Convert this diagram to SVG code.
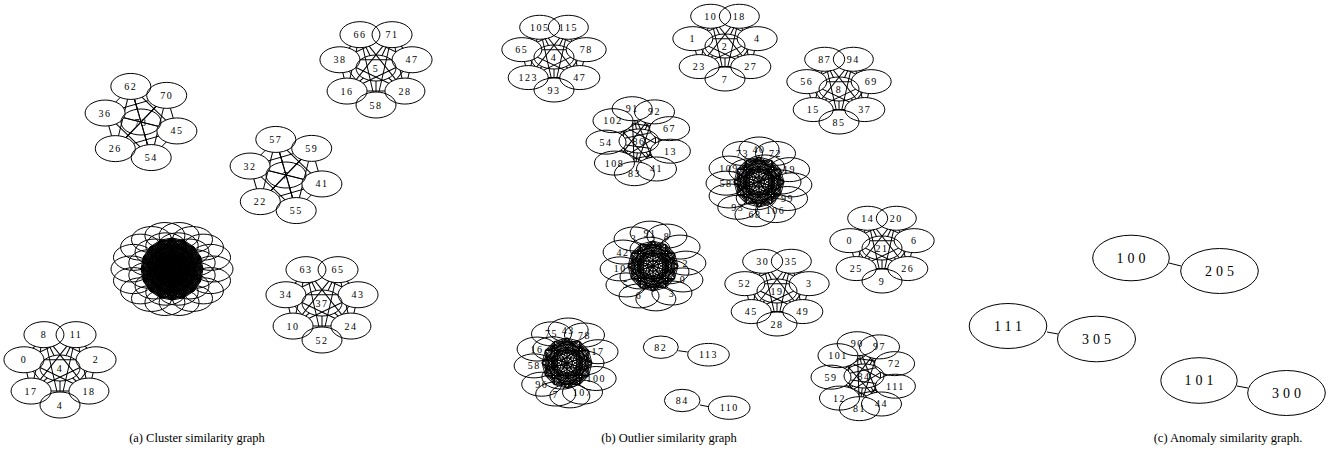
<svg xmlns="http://www.w3.org/2000/svg" width="1340" height="458" viewBox="0 0 1340 458">
<style>
.n ellipse{fill:none;stroke:#000;stroke-width:1}
.n text{font-family:"Liberation Serif","Times New Roman",serif;font-size:10px;letter-spacing:1.5px;text-anchor:middle;dominant-baseline:central;fill:#000}
.big ellipse{fill:none;stroke:#000;stroke-width:1}
.big text{font-family:"Liberation Serif","Times New Roman",serif;font-size:14px;letter-spacing:4px;text-anchor:middle;dominant-baseline:central;fill:#000}
.cap{font-family:"Liberation Serif","Times New Roman",serif;font-size:12.5px;text-anchor:middle;fill:#000}
</style>
<defs>
<g id="c6a"><line x1="35.9" y1="8.95" x2="10.2" y2="35.57"/><line x1="35.9" y1="8.95" x2="-25.7" y2="26.62"/><line x1="35.9" y1="8.95" x2="-35.9" y2="-8.95"/></g>
<g id="s6a"><line x1="35.9" y1="8.95" x2="0" y2="0"/></g>
<g id="C6a"><use href="#c6a"/><use href="#c6a" transform="rotate(60)"/><use href="#c6a" transform="rotate(120)"/><use href="#c6a" transform="rotate(180)"/><use href="#c6a" transform="rotate(240)"/><use href="#c6a" transform="rotate(300)"/></g>
<g id="S6a"><use href="#s6a"/><use href="#s6a" transform="rotate(60)"/><use href="#s6a" transform="rotate(120)"/><use href="#s6a" transform="rotate(180)"/><use href="#s6a" transform="rotate(240)"/><use href="#s6a" transform="rotate(300)"/></g>

<g id="c7a"><line x1="0" y1="37" x2="-28.93" y2="23.07"/><line x1="0" y1="37" x2="-36.07" y2="-8.23"/><line x1="0" y1="37" x2="-16.05" y2="-33.34"/></g>
<g id="s7a"><line x1="0" y1="37" x2="0" y2="0"/></g>
<g id="C7a"><use href="#c7a"/><use href="#c7a" transform="rotate(51.43)"/><use href="#c7a" transform="rotate(102.86)"/><use href="#c7a" transform="rotate(154.29)"/><use href="#c7a" transform="rotate(205.71)"/><use href="#c7a" transform="rotate(257.14)"/><use href="#c7a" transform="rotate(308.57)"/></g>
<g id="S7a"><use href="#s7a"/><use href="#s7a" transform="rotate(51.43)"/><use href="#s7a" transform="rotate(102.86)"/><use href="#s7a" transform="rotate(154.29)"/><use href="#s7a" transform="rotate(205.71)"/><use href="#s7a" transform="rotate(257.14)"/><use href="#s7a" transform="rotate(308.57)"/></g>

<g id="c7b"><line x1="0" y1="33" x2="-25.8" y2="20.58"/><line x1="0" y1="33" x2="-32.17" y2="-7.34"/><line x1="0" y1="33" x2="-14.32" y2="-29.73"/></g>
<g id="s7b"><line x1="0" y1="33" x2="0" y2="0"/></g>
<g id="C7b"><use href="#c7b"/><use href="#c7b" transform="rotate(51.43)"/><use href="#c7b" transform="rotate(102.86)"/><use href="#c7b" transform="rotate(154.29)"/><use href="#c7b" transform="rotate(205.71)"/><use href="#c7b" transform="rotate(257.14)"/><use href="#c7b" transform="rotate(308.57)"/></g>
<g id="S7b"><use href="#s7b"/><use href="#s7b" transform="rotate(51.43)"/><use href="#s7b" transform="rotate(102.86)"/><use href="#s7b" transform="rotate(154.29)"/><use href="#s7b" transform="rotate(205.71)"/><use href="#s7b" transform="rotate(257.14)"/><use href="#s7b" transform="rotate(308.57)"/></g>

<g id="c9b"><line x1="31.39" y1="10.2" x2="17.49" y2="27.98"/><line x1="31.39" y1="10.2" x2="-4.59" y2="32.68"/><line x1="31.39" y1="10.2" x2="-24.52" y2="22.08"/><line x1="31.39" y1="10.2" x2="-32.98" y2="1.15"/></g>
<g id="s9b"><line x1="31.39" y1="10.2" x2="0" y2="0"/></g>
<g id="C9b"><use href="#c9b"/><use href="#c9b" transform="rotate(40)"/><use href="#c9b" transform="rotate(80)"/><use href="#c9b" transform="rotate(120)"/><use href="#c9b" transform="rotate(160)"/><use href="#c9b" transform="rotate(200)"/><use href="#c9b" transform="rotate(240)"/><use href="#c9b" transform="rotate(280)"/><use href="#c9b" transform="rotate(320)"/></g>
<g id="S9b"><use href="#s9b"/><use href="#s9b" transform="rotate(40)"/><use href="#s9b" transform="rotate(80)"/><use href="#s9b" transform="rotate(120)"/><use href="#s9b" transform="rotate(160)"/><use href="#s9b" transform="rotate(200)"/><use href="#s9b" transform="rotate(240)"/><use href="#s9b" transform="rotate(280)"/><use href="#s9b" transform="rotate(320)"/></g>

<g id="f16"><line x1="31" y1="0" x2="28.64" y2="11.86"/><line x1="31" y1="0" x2="21.92" y2="21.92"/><line x1="31" y1="0" x2="11.86" y2="28.64"/><line x1="31" y1="0" x2="0" y2="31"/><line x1="31" y1="0" x2="-11.86" y2="28.64"/><line x1="31" y1="0" x2="-21.92" y2="21.92"/><line x1="31" y1="0" x2="-28.64" y2="11.86"/><line x1="31" y1="0" x2="-31" y2="0"/></g>
<g id="K16"><use href="#f16"/><use href="#f16" transform="rotate(22.5)"/><use href="#f16" transform="rotate(45)"/><use href="#f16" transform="rotate(67.5)"/><use href="#f16" transform="rotate(90)"/><use href="#f16" transform="rotate(112.5)"/><use href="#f16" transform="rotate(135)"/><use href="#f16" transform="rotate(157.5)"/><use href="#f16" transform="rotate(180)"/><use href="#f16" transform="rotate(202.5)"/><use href="#f16" transform="rotate(225)"/><use href="#f16" transform="rotate(247.5)"/><use href="#f16" transform="rotate(270)"/><use href="#f16" transform="rotate(292.5)"/><use href="#f16" transform="rotate(315)"/><use href="#f16" transform="rotate(337.5)"/></g>

<g id="f12"><line x1="24" y1="0" x2="20.78" y2="12"/><line x1="24" y1="0" x2="12" y2="20.78"/><line x1="24" y1="0" x2="0" y2="24"/><line x1="24" y1="0" x2="-12" y2="20.78"/><line x1="24" y1="0" x2="-20.78" y2="12"/><line x1="24" y1="0" x2="-24" y2="0"/></g>
<g id="K12"><use href="#f12"/><use href="#f12" transform="rotate(30)"/><use href="#f12" transform="rotate(60)"/><use href="#f12" transform="rotate(90)"/><use href="#f12" transform="rotate(120)"/><use href="#f12" transform="rotate(150)"/><use href="#f12" transform="rotate(180)"/><use href="#f12" transform="rotate(210)"/><use href="#f12" transform="rotate(240)"/><use href="#f12" transform="rotate(270)"/><use href="#f12" transform="rotate(300)"/><use href="#f12" transform="rotate(330)"/></g>

<g id="f10"><line x1="16" y1="0" x2="12.94" y2="9.4"/><line x1="16" y1="0" x2="4.94" y2="15.22"/><line x1="16" y1="0" x2="-4.94" y2="15.22"/><line x1="16" y1="0" x2="-12.94" y2="9.4"/><line x1="16" y1="0" x2="-16" y2="0"/></g>
<g id="K10"><use href="#f10"/><use href="#f10" transform="rotate(36)"/><use href="#f10" transform="rotate(72)"/><use href="#f10" transform="rotate(108)"/><use href="#f10" transform="rotate(144)"/><use href="#f10" transform="rotate(180)"/><use href="#f10" transform="rotate(216)"/><use href="#f10" transform="rotate(252)"/><use href="#f10" transform="rotate(288)"/><use href="#f10" transform="rotate(324)"/></g>

<g id="g12"><line x1="25" y1="0" x2="21.65" y2="12.5"/><line x1="25" y1="0" x2="12.5" y2="21.65"/><line x1="25" y1="0" x2="0" y2="25"/><line x1="25" y1="0" x2="-12.5" y2="21.65"/></g>
<g id="W12"><use href="#g12"/><use href="#g12" transform="rotate(30)"/><use href="#g12" transform="rotate(60)"/><use href="#g12" transform="rotate(90)"/><use href="#g12" transform="rotate(120)"/><use href="#g12" transform="rotate(150)"/><use href="#g12" transform="rotate(180)"/><use href="#g12" transform="rotate(210)"/><use href="#g12" transform="rotate(240)"/><use href="#g12" transform="rotate(270)"/><use href="#g12" transform="rotate(300)"/><use href="#g12" transform="rotate(330)"/></g>

<g id="k6a" fill="#000">
<ellipse rx="20" ry="13" transform="rotate(14) translate(37 0) rotate(-14)"/>
<ellipse rx="20" ry="13" transform="rotate(74) translate(37 0) rotate(-74)"/>
<ellipse rx="20" ry="13" transform="rotate(134) translate(37 0) rotate(-134)"/>
<ellipse rx="20" ry="13" transform="rotate(194) translate(37 0) rotate(-194)"/>
<ellipse rx="20" ry="13" transform="rotate(254) translate(37 0) rotate(-254)"/>
<ellipse rx="20" ry="13" transform="rotate(314) translate(37 0) rotate(-314)"/>
</g>
<g id="k7a" fill="#000">
<ellipse rx="20" ry="13" transform="rotate(90) translate(37 0) rotate(-90)"/>
<ellipse rx="20" ry="13" transform="rotate(141.43) translate(37 0) rotate(-141.43)"/>
<ellipse rx="20" ry="13" transform="rotate(192.86) translate(37 0) rotate(-192.86)"/>
<ellipse rx="20" ry="13" transform="rotate(244.29) translate(37 0) rotate(-244.29)"/>
<ellipse rx="20" ry="13" transform="rotate(295.71) translate(37 0) rotate(-295.71)"/>
<ellipse rx="20" ry="13" transform="rotate(347.14) translate(37 0) rotate(-347.14)"/>
<ellipse rx="20" ry="13" transform="rotate(38.57) translate(37 0) rotate(-38.57)"/>
</g>
<g id="k7b" fill="#000">
<ellipse rx="20" ry="12" transform="rotate(90) translate(33 0) rotate(-90)"/>
<ellipse rx="20" ry="12" transform="rotate(141.43) translate(33 0) rotate(-141.43)"/>
<ellipse rx="20" ry="12" transform="rotate(192.86) translate(33 0) rotate(-192.86)"/>
<ellipse rx="20" ry="12" transform="rotate(244.29) translate(33 0) rotate(-244.29)"/>
<ellipse rx="20" ry="12" transform="rotate(295.71) translate(33 0) rotate(-295.71)"/>
<ellipse rx="20" ry="12" transform="rotate(347.14) translate(33 0) rotate(-347.14)"/>
<ellipse rx="20" ry="12" transform="rotate(38.57) translate(33 0) rotate(-38.57)"/>
</g>
<g id="k9b" fill="#000">
<ellipse rx="20" ry="12" transform="rotate(18) translate(33 0) rotate(-18)"/>
<ellipse rx="20" ry="12" transform="rotate(58) translate(33 0) rotate(-58)"/>
<ellipse rx="20" ry="12" transform="rotate(98) translate(33 0) rotate(-98)"/>
<ellipse rx="20" ry="12" transform="rotate(138) translate(33 0) rotate(-138)"/>
<ellipse rx="20" ry="12" transform="rotate(178) translate(33 0) rotate(-178)"/>
<ellipse rx="20" ry="12" transform="rotate(218) translate(33 0) rotate(-218)"/>
<ellipse rx="20" ry="12" transform="rotate(258) translate(33 0) rotate(-258)"/>
<ellipse rx="20" ry="12" transform="rotate(298) translate(33 0) rotate(-298)"/>
<ellipse rx="20" ry="12" transform="rotate(338) translate(33 0) rotate(-338)"/>
</g>
<mask id="m6a" maskUnits="userSpaceOnUse" x="-90" y="-90" width="180" height="180"><rect x="-90" y="-90" width="180" height="180" fill="#fff"/><use href="#k6a"/></mask>
<mask id="m6aA" maskUnits="userSpaceOnUse" x="-90" y="-90" width="180" height="180"><rect x="-90" y="-90" width="180" height="180" fill="#fff"/><use href="#k6a"/><ellipse rx="20" ry="13" fill="#000"/></mask>
<mask id="m7a" maskUnits="userSpaceOnUse" x="-90" y="-90" width="180" height="180"><rect x="-90" y="-90" width="180" height="180" fill="#fff"/><use href="#k7a"/></mask>
<mask id="m7aA" maskUnits="userSpaceOnUse" x="-90" y="-90" width="180" height="180"><rect x="-90" y="-90" width="180" height="180" fill="#fff"/><use href="#k7a"/><ellipse rx="20" ry="13" fill="#000"/></mask>
<mask id="m7b" maskUnits="userSpaceOnUse" x="-90" y="-90" width="180" height="180"><rect x="-90" y="-90" width="180" height="180" fill="#fff"/><use href="#k7b"/></mask>
<mask id="m7bA" maskUnits="userSpaceOnUse" x="-90" y="-90" width="180" height="180"><rect x="-90" y="-90" width="180" height="180" fill="#fff"/><use href="#k7b"/><ellipse rx="20" ry="12" fill="#000"/></mask>
<mask id="m9b" maskUnits="userSpaceOnUse" x="-90" y="-90" width="180" height="180"><rect x="-90" y="-90" width="180" height="180" fill="#fff"/><use href="#k9b"/></mask>
<mask id="m9bA" maskUnits="userSpaceOnUse" x="-90" y="-90" width="180" height="180"><rect x="-90" y="-90" width="180" height="180" fill="#fff"/><use href="#k9b"/><ellipse rx="20" ry="12" fill="#000"/></mask>
</defs>

<rect x="0" y="0" width="1340" height="458" fill="#fff"/>

<g id="connectors" stroke="#000" stroke-width="1" fill="none">
<g transform="translate(141 122)"><g mask="url(#m6a)"><use href="#C6a"/></g><g mask="url(#m6aA)"><use href="#S6a"/></g></g>
<g transform="translate(286 175)"><g mask="url(#m6a)"><use href="#C6a"/></g><g mask="url(#m6aA)"><use href="#S6a"/></g></g>
<g transform="translate(376 68)"><g mask="url(#m7a)"><use href="#C7a"/></g><g mask="url(#m7aA)"><use href="#S7a"/></g></g>
<g transform="translate(322 303)"><g mask="url(#m7a)"><use href="#C7a"/></g><g mask="url(#m7aA)"><use href="#S7a"/></g></g>
<g transform="translate(60 368)"><g mask="url(#m7a)"><use href="#C7a"/></g><g mask="url(#m7aA)"><use href="#S7a"/></g></g>
<g transform="translate(172 269)"><use href="#K16"/><use href="#K16" transform="rotate(11.25) scale(0.8)"/><use href="#K12" transform="scale(0.8)"/><use href="#K10" transform="rotate(18)"/><use href="#K12" transform="rotate(15) scale(0.45)"/></g>

<g transform="translate(554 57)"><g mask="url(#m7b)"><use href="#C7b"/></g><g mask="url(#m7bA)"><use href="#S7b"/></g></g>
<g transform="translate(725 46)"><g mask="url(#m7b)"><use href="#C7b"/></g><g mask="url(#m7bA)"><use href="#S7b"/></g></g>
<g transform="translate(839 89)"><g mask="url(#m7b)"><use href="#C7b"/></g><g mask="url(#m7bA)"><use href="#S7b"/></g></g>
<g transform="translate(777 291)"><g mask="url(#m7b)"><use href="#C7b"/></g><g mask="url(#m7bA)"><use href="#S7b"/></g></g>
<g transform="translate(882 248)"><g mask="url(#m7b)"><use href="#C7b"/></g><g mask="url(#m7bA)"><use href="#S7b"/></g></g>
<g transform="translate(639 141)"><g mask="url(#m9b)"><use href="#C9b"/></g><g mask="url(#m9bA)"><use href="#S9b"/></g></g>
<g transform="translate(864 376)"><g mask="url(#m9b)"><use href="#C9b"/></g><g mask="url(#m9bA)"><use href="#S9b"/></g></g>
<g stroke-width="0.9">
<g transform="translate(759 182)"><use href="#W12"/><use href="#W12" transform="rotate(15) scale(0.85)"/><use href="#K10" transform="rotate(18)"/></g>
<g transform="translate(653 266)"><use href="#W12"/><use href="#W12" transform="rotate(15) scale(0.85)"/><use href="#K10" transform="rotate(18)"/></g>
<g transform="translate(567 363)"><use href="#W12"/><use href="#W12" transform="rotate(15) scale(0.85)"/><use href="#K10" transform="rotate(18)"/></g>
</g>
<line x1="678.3" y1="350.7" x2="687.7" y2="352"/>
<line x1="700" y1="405" x2="708.7" y2="406.7"/>
<line x1="1169" y1="263" x2="1181" y2="266"/>
<line x1="1047" y1="332" x2="1058" y2="334"/>
<line x1="1237" y1="386" x2="1248" y2="388"/>
</g>

<g id="a73">
<g id="a73-45" class="n" transform="translate(141 122) rotate(14) translate(37 0) rotate(-14)"><ellipse rx="20" ry="13"/><text>45</text></g>
<g id="a73-54" class="n" transform="translate(141 122) rotate(74) translate(37 0) rotate(-74)"><ellipse rx="20" ry="13"/><text>54</text></g>
<g id="a73-26" class="n" transform="translate(141 122) rotate(134) translate(37 0) rotate(-134)"><ellipse rx="20" ry="13"/><text>26</text></g>
<g id="a73-36" class="n" transform="translate(141 122) rotate(194) translate(37 0) rotate(-194)"><ellipse rx="20" ry="13"/><text>36</text></g>
<g id="a73-62" class="n" transform="translate(141 122) rotate(254) translate(37 0) rotate(-254)"><ellipse rx="20" ry="13"/><text>62</text></g>
<g id="a73-70" class="n" transform="translate(141 122) rotate(314) translate(37 0) rotate(-314)"><ellipse rx="20" ry="13"/><text>70</text></g>
<g id="a73-73" class="n" transform="translate(141 122)"><ellipse rx="20" ry="13"/><text>73</text></g>
</g>
<g id="a7">
<g id="a7-41" class="n" transform="translate(286 175) rotate(14) translate(37 0) rotate(-14)"><ellipse rx="20" ry="13"/><text>41</text></g>
<g id="a7-55" class="n" transform="translate(286 175) rotate(74) translate(37 0) rotate(-74)"><ellipse rx="20" ry="13"/><text>55</text></g>
<g id="a7-22" class="n" transform="translate(286 175) rotate(134) translate(37 0) rotate(-134)"><ellipse rx="20" ry="13"/><text>22</text></g>
<g id="a7-32" class="n" transform="translate(286 175) rotate(194) translate(37 0) rotate(-194)"><ellipse rx="20" ry="13"/><text>32</text></g>
<g id="a7-57" class="n" transform="translate(286 175) rotate(254) translate(37 0) rotate(-254)"><ellipse rx="20" ry="13"/><text>57</text></g>
<g id="a7-59" class="n" transform="translate(286 175) rotate(314) translate(37 0) rotate(-314)"><ellipse rx="20" ry="13"/><text>59</text></g>
<g id="a7-7" class="n" transform="translate(286 175)"><ellipse rx="20" ry="13"/><text>7</text></g>
</g>
<g id="a5">
<g id="a5-58" class="n" transform="translate(376 68) rotate(90) translate(37 0) rotate(-90)"><ellipse rx="20" ry="13"/><text>58</text></g>
<g id="a5-16" class="n" transform="translate(376 68) rotate(141.43) translate(37 0) rotate(-141.43)"><ellipse rx="20" ry="13"/><text>16</text></g>
<g id="a5-38" class="n" transform="translate(376 68) rotate(192.86) translate(37 0) rotate(-192.86)"><ellipse rx="20" ry="13"/><text>38</text></g>
<g id="a5-66" class="n" transform="translate(376 68) rotate(244.29) translate(37 0) rotate(-244.29)"><ellipse rx="20" ry="13"/><text>66</text></g>
<g id="a5-71" class="n" transform="translate(376 68) rotate(295.71) translate(37 0) rotate(-295.71)"><ellipse rx="20" ry="13"/><text>71</text></g>
<g id="a5-47" class="n" transform="translate(376 68) rotate(347.14) translate(37 0) rotate(-347.14)"><ellipse rx="20" ry="13"/><text>47</text></g>
<g id="a5-28" class="n" transform="translate(376 68) rotate(38.57) translate(37 0) rotate(-38.57)"><ellipse rx="20" ry="13"/><text>28</text></g>
<g id="a5-5" class="n" transform="translate(376 68)"><ellipse rx="20" ry="13"/><text>5</text></g>
</g>
<g id="a37">
<g id="a37-52" class="n" transform="translate(322 303) rotate(90) translate(37 0) rotate(-90)"><ellipse rx="20" ry="13"/><text>52</text></g>
<g id="a37-10" class="n" transform="translate(322 303) rotate(141.43) translate(37 0) rotate(-141.43)"><ellipse rx="20" ry="13"/><text>10</text></g>
<g id="a37-34" class="n" transform="translate(322 303) rotate(192.86) translate(37 0) rotate(-192.86)"><ellipse rx="20" ry="13"/><text>34</text></g>
<g id="a37-63" class="n" transform="translate(322 303) rotate(244.29) translate(37 0) rotate(-244.29)"><ellipse rx="20" ry="13"/><text>63</text></g>
<g id="a37-65" class="n" transform="translate(322 303) rotate(295.71) translate(37 0) rotate(-295.71)"><ellipse rx="20" ry="13"/><text>65</text></g>
<g id="a37-43" class="n" transform="translate(322 303) rotate(347.14) translate(37 0) rotate(-347.14)"><ellipse rx="20" ry="13"/><text>43</text></g>
<g id="a37-24" class="n" transform="translate(322 303) rotate(38.57) translate(37 0) rotate(-38.57)"><ellipse rx="20" ry="13"/><text>24</text></g>
<g id="a37-37" class="n" transform="translate(322 303)"><ellipse rx="20" ry="13"/><text>37</text></g>
</g>
<g id="a4">
<g id="a4-4b" class="n" transform="translate(60 368) rotate(90) translate(37 0) rotate(-90)"><ellipse rx="20" ry="13"/><text>4</text></g>
<g id="a4-17" class="n" transform="translate(60 368) rotate(141.43) translate(37 0) rotate(-141.43)"><ellipse rx="20" ry="13"/><text>17</text></g>
<g id="a4-0" class="n" transform="translate(60 368) rotate(192.86) translate(37 0) rotate(-192.86)"><ellipse rx="20" ry="13"/><text>0</text></g>
<g id="a4-8" class="n" transform="translate(60 368) rotate(244.29) translate(37 0) rotate(-244.29)"><ellipse rx="20" ry="13"/><text>8</text></g>
<g id="a4-11" class="n" transform="translate(60 368) rotate(295.71) translate(37 0) rotate(-295.71)"><ellipse rx="20" ry="13"/><text>11</text></g>
<g id="a4-2" class="n" transform="translate(60 368) rotate(347.14) translate(37 0) rotate(-347.14)"><ellipse rx="20" ry="13"/><text>2</text></g>
<g id="a4-18" class="n" transform="translate(60 368) rotate(38.57) translate(37 0) rotate(-38.57)"><ellipse rx="20" ry="13"/><text>18</text></g>
<g id="a4-4" class="n" transform="translate(60 368)"><ellipse rx="20" ry="13"/><text>4</text></g>
</g>
<g id="ablob" class="n" transform="translate(172 269)">
<g id="ab-o0" transform="translate(41 0)"><ellipse rx="20" ry="13"/></g>
<g id="ab-o1" transform="translate(38.53 11.63)"><ellipse rx="20" ry="13"/></g>
<g id="ab-o2" transform="translate(31.41 21.86)"><ellipse rx="20" ry="13"/></g>
<g id="ab-o3" transform="translate(20.5 29.44)"><ellipse rx="20" ry="13"/></g>
<g id="ab-o4" transform="translate(7.12 33.48)"><ellipse rx="20" ry="13"/></g>
<g id="ab-o5" transform="translate(-7.12 33.48)"><ellipse rx="20" ry="13"/></g>
<g id="ab-o6" transform="translate(-20.5 29.44)"><ellipse rx="20" ry="13"/></g>
<g id="ab-o7" transform="translate(-31.41 21.86)"><ellipse rx="20" ry="13"/></g>
<g id="ab-o8" transform="translate(-38.53 11.63)"><ellipse rx="20" ry="13"/></g>
<g id="ab-o9" transform="translate(-41 0)"><ellipse rx="20" ry="13"/></g>
<g id="ab-o10" transform="translate(-38.53 -11.63)"><ellipse rx="20" ry="13"/></g>
<g id="ab-o11" transform="translate(-31.41 -21.86)"><ellipse rx="20" ry="13"/></g>
<g id="ab-o12" transform="translate(-20.5 -29.44)"><ellipse rx="20" ry="13"/></g>
<g id="ab-o13" transform="translate(-7.12 -33.48)"><ellipse rx="20" ry="13"/></g>
<g id="ab-o14" transform="translate(7.12 -33.48)"><ellipse rx="20" ry="13"/></g>
<g id="ab-o15" transform="translate(20.5 -29.44)"><ellipse rx="20" ry="13"/></g>
<g id="ab-o16" transform="translate(31.41 -21.86)"><ellipse rx="20" ry="13"/></g>
<g id="ab-o17" transform="translate(38.53 -11.63)"><ellipse rx="20" ry="13"/></g>
<g id="ab-i0" transform="rotate(15) translate(24 0) rotate(-15)"><ellipse rx="20" ry="13"/></g>
<g id="ab-i1" transform="rotate(45) translate(24 0) rotate(-45)"><ellipse rx="20" ry="13"/></g>
<g id="ab-i2" transform="rotate(75) translate(24 0) rotate(-75)"><ellipse rx="20" ry="13"/></g>
<g id="ab-i3" transform="rotate(105) translate(24 0) rotate(-105)"><ellipse rx="20" ry="13"/></g>
<g id="ab-i4" transform="rotate(135) translate(24 0) rotate(-135)"><ellipse rx="20" ry="13"/></g>
<g id="ab-i5" transform="rotate(165) translate(24 0) rotate(-165)"><ellipse rx="20" ry="13"/></g>
<g id="ab-i6" transform="rotate(195) translate(24 0) rotate(-195)"><ellipse rx="20" ry="13"/></g>
<g id="ab-i7" transform="rotate(225) translate(24 0) rotate(-225)"><ellipse rx="20" ry="13"/></g>
<g id="ab-i8" transform="rotate(255) translate(24 0) rotate(-255)"><ellipse rx="20" ry="13"/></g>
<g id="ab-i9" transform="rotate(285) translate(24 0) rotate(-285)"><ellipse rx="20" ry="13"/></g>
<g id="ab-i10" transform="rotate(315) translate(24 0) rotate(-315)"><ellipse rx="20" ry="13"/></g>
<g id="ab-i11" transform="rotate(345) translate(24 0) rotate(-345)"><ellipse rx="20" ry="13"/></g>
</g>

<g id="b4">
<g id="b4-93" class="n" transform="translate(554 57) rotate(90) translate(33 0) rotate(-90)"><ellipse rx="20" ry="12"/><text>93</text></g>
<g id="b4-123" class="n" transform="translate(554 57) rotate(141.43) translate(33 0) rotate(-141.43)"><ellipse rx="20" ry="12"/><text>123</text></g>
<g id="b4-65" class="n" transform="translate(554 57) rotate(192.86) translate(33 0) rotate(-192.86)"><ellipse rx="20" ry="12"/><text>65</text></g>
<g id="b4-105" class="n" transform="translate(554 57) rotate(244.29) translate(33 0) rotate(-244.29)"><ellipse rx="20" ry="12"/><text>105</text></g>
<g id="b4-115" class="n" transform="translate(554 57) rotate(295.71) translate(33 0) rotate(-295.71)"><ellipse rx="20" ry="12"/><text>115</text></g>
<g id="b4-78" class="n" transform="translate(554 57) rotate(347.14) translate(33 0) rotate(-347.14)"><ellipse rx="20" ry="12"/><text>78</text></g>
<g id="b4-47" class="n" transform="translate(554 57) rotate(38.57) translate(33 0) rotate(-38.57)"><ellipse rx="20" ry="12"/><text>47</text></g>
<g id="b4-4" class="n" transform="translate(554 57)"><ellipse rx="20" ry="12"/><text>4</text></g>
</g>
<g id="b2">
<g id="b2-7" class="n" transform="translate(725 46) rotate(90) translate(33 0) rotate(-90)"><ellipse rx="20" ry="12"/><text>7</text></g>
<g id="b2-23" class="n" transform="translate(725 46) rotate(141.43) translate(33 0) rotate(-141.43)"><ellipse rx="20" ry="12"/><text>23</text></g>
<g id="b2-1" class="n" transform="translate(725 46) rotate(192.86) translate(33 0) rotate(-192.86)"><ellipse rx="20" ry="12"/><text>1</text></g>
<g id="b2-10" class="n" transform="translate(725 46) rotate(244.29) translate(33 0) rotate(-244.29)"><ellipse rx="20" ry="12"/><text>10</text></g>
<g id="b2-18" class="n" transform="translate(725 46) rotate(295.71) translate(33 0) rotate(-295.71)"><ellipse rx="20" ry="12"/><text>18</text></g>
<g id="b2-4" class="n" transform="translate(725 46) rotate(347.14) translate(33 0) rotate(-347.14)"><ellipse rx="20" ry="12"/><text>4</text></g>
<g id="b2-27" class="n" transform="translate(725 46) rotate(38.57) translate(33 0) rotate(-38.57)"><ellipse rx="20" ry="12"/><text>27</text></g>
<g id="b2-2" class="n" transform="translate(725 46)"><ellipse rx="20" ry="12"/><text>2</text></g>
</g>
<g id="b8">
<g id="b8-85" class="n" transform="translate(839 89) rotate(90) translate(33 0) rotate(-90)"><ellipse rx="20" ry="12"/><text>85</text></g>
<g id="b8-15" class="n" transform="translate(839 89) rotate(141.43) translate(33 0) rotate(-141.43)"><ellipse rx="20" ry="12"/><text>15</text></g>
<g id="b8-56" class="n" transform="translate(839 89) rotate(192.86) translate(33 0) rotate(-192.86)"><ellipse rx="20" ry="12"/><text>56</text></g>
<g id="b8-87" class="n" transform="translate(839 89) rotate(244.29) translate(33 0) rotate(-244.29)"><ellipse rx="20" ry="12"/><text>87</text></g>
<g id="b8-94" class="n" transform="translate(839 89) rotate(295.71) translate(33 0) rotate(-295.71)"><ellipse rx="20" ry="12"/><text>94</text></g>
<g id="b8-69" class="n" transform="translate(839 89) rotate(347.14) translate(33 0) rotate(-347.14)"><ellipse rx="20" ry="12"/><text>69</text></g>
<g id="b8-37" class="n" transform="translate(839 89) rotate(38.57) translate(33 0) rotate(-38.57)"><ellipse rx="20" ry="12"/><text>37</text></g>
<g id="b8-8" class="n" transform="translate(839 89)"><ellipse rx="20" ry="12"/><text>8</text></g>
</g>
<g id="b19">
<g id="b19-28" class="n" transform="translate(777 291) rotate(90) translate(33 0) rotate(-90)"><ellipse rx="20" ry="12"/><text>28</text></g>
<g id="b19-45" class="n" transform="translate(777 291) rotate(141.43) translate(33 0) rotate(-141.43)"><ellipse rx="20" ry="12"/><text>45</text></g>
<g id="b19-52" class="n" transform="translate(777 291) rotate(192.86) translate(33 0) rotate(-192.86)"><ellipse rx="20" ry="12"/><text>52</text></g>
<g id="b19-30" class="n" transform="translate(777 291) rotate(244.29) translate(33 0) rotate(-244.29)"><ellipse rx="20" ry="12"/><text>30</text></g>
<g id="b19-35" class="n" transform="translate(777 291) rotate(295.71) translate(33 0) rotate(-295.71)"><ellipse rx="20" ry="12"/><text>35</text></g>
<g id="b19-3" class="n" transform="translate(777 291) rotate(347.14) translate(33 0) rotate(-347.14)"><ellipse rx="20" ry="12"/><text>3</text></g>
<g id="b19-49" class="n" transform="translate(777 291) rotate(38.57) translate(33 0) rotate(-38.57)"><ellipse rx="20" ry="12"/><text>49</text></g>
<g id="b19-19" class="n" transform="translate(777 291)"><ellipse rx="20" ry="12"/><text>19</text></g>
</g>
<g id="b21">
<g id="b21-9" class="n" transform="translate(882 248) rotate(90) translate(33 0) rotate(-90)"><ellipse rx="20" ry="12"/><text>9</text></g>
<g id="b21-25" class="n" transform="translate(882 248) rotate(141.43) translate(33 0) rotate(-141.43)"><ellipse rx="20" ry="12"/><text>25</text></g>
<g id="b21-0" class="n" transform="translate(882 248) rotate(192.86) translate(33 0) rotate(-192.86)"><ellipse rx="20" ry="12"/><text>0</text></g>
<g id="b21-14" class="n" transform="translate(882 248) rotate(244.29) translate(33 0) rotate(-244.29)"><ellipse rx="20" ry="12"/><text>14</text></g>
<g id="b21-20" class="n" transform="translate(882 248) rotate(295.71) translate(33 0) rotate(-295.71)"><ellipse rx="20" ry="12"/><text>20</text></g>
<g id="b21-6" class="n" transform="translate(882 248) rotate(347.14) translate(33 0) rotate(-347.14)"><ellipse rx="20" ry="12"/><text>6</text></g>
<g id="b21-26" class="n" transform="translate(882 248) rotate(38.57) translate(33 0) rotate(-38.57)"><ellipse rx="20" ry="12"/><text>26</text></g>
<g id="b21-21" class="n" transform="translate(882 248)"><ellipse rx="20" ry="12"/><text>21</text></g>
</g>
<g id="b86">
<g id="b86-13" class="n" transform="translate(639 141) rotate(18) translate(33 0) rotate(-18)"><ellipse rx="20" ry="12"/><text>13</text></g>
<g id="b86-41" class="n" transform="translate(639 141) rotate(58) translate(33 0) rotate(-58)"><ellipse rx="20" ry="12"/><text>41</text></g>
<g id="b86-83" class="n" transform="translate(639 141) rotate(98) translate(33 0) rotate(-98)"><ellipse rx="20" ry="12"/><text>83</text></g>
<g id="b86-108" class="n" transform="translate(639 141) rotate(138) translate(33 0) rotate(-138)"><ellipse rx="20" ry="12"/><text>108</text></g>
<g id="b86-54" class="n" transform="translate(639 141) rotate(178) translate(33 0) rotate(-178)"><ellipse rx="20" ry="12"/><text>54</text></g>
<g id="b86-102" class="n" transform="translate(639 141) rotate(218) translate(33 0) rotate(-218)"><ellipse rx="20" ry="12"/><text>102</text></g>
<g id="b86-91" class="n" transform="translate(639 141) rotate(258) translate(33 0) rotate(-258)"><ellipse rx="20" ry="12"/><text>91</text></g>
<g id="b86-92" class="n" transform="translate(639 141) rotate(298) translate(33 0) rotate(-298)"><ellipse rx="20" ry="12"/><text>92</text></g>
<g id="b86-67" class="n" transform="translate(639 141) rotate(338) translate(33 0) rotate(-338)"><ellipse rx="20" ry="12"/><text>67</text></g>
<g id="b86-86" class="n" transform="translate(639 141)"><ellipse rx="20" ry="12"/><text>86</text></g>
</g>
<g id="b84">
<g id="b84-111" class="n" transform="translate(864 376) rotate(18) translate(33 0) rotate(-18)"><ellipse rx="20" ry="12"/><text>111</text></g>
<g id="b84-44" class="n" transform="translate(864 376) rotate(58) translate(33 0) rotate(-58)"><ellipse rx="20" ry="12"/><text>44</text></g>
<g id="b84-81" class="n" transform="translate(864 376) rotate(98) translate(33 0) rotate(-98)"><ellipse rx="20" ry="12"/><text>81</text></g>
<g id="b84-12" class="n" transform="translate(864 376) rotate(138) translate(33 0) rotate(-138)"><ellipse rx="20" ry="12"/><text>12</text></g>
<g id="b84-59" class="n" transform="translate(864 376) rotate(178) translate(33 0) rotate(-178)"><ellipse rx="20" ry="12"/><text>59</text></g>
<g id="b84-101" class="n" transform="translate(864 376) rotate(218) translate(33 0) rotate(-218)"><ellipse rx="20" ry="12"/><text>101</text></g>
<g id="b84-90" class="n" transform="translate(864 376) rotate(258) translate(33 0) rotate(-258)"><ellipse rx="20" ry="12"/><text>90</text></g>
<g id="b84-97" class="n" transform="translate(864 376) rotate(298) translate(33 0) rotate(-298)"><ellipse rx="20" ry="12"/><text>97</text></g>
<g id="b84-72" class="n" transform="translate(864 376) rotate(338) translate(33 0) rotate(-338)"><ellipse rx="20" ry="12"/><text>72</text></g>
<g id="b84-84" class="n" transform="translate(864 376)"><ellipse rx="20" ry="12"/><text>84</text></g>
</g>
<g id="bd73">
<g id="bd73-73" class="n" transform="translate(759 182) rotate(240) translate(33 0) rotate(-240)"><ellipse rx="20" ry="12"/><text>73</text></g>
<g id="bd73-40" class="n" transform="translate(759 182) rotate(270) translate(33 0) rotate(-270)"><ellipse rx="20" ry="12"/><text>40</text></g>
<g id="bd73-72" class="n" transform="translate(759 182) rotate(300) translate(33 0) rotate(-300)"><ellipse rx="20" ry="12"/><text>72</text></g>
<g id="bd73-19" class="n" transform="translate(759 182) rotate(338) translate(33 0) rotate(-338)"><ellipse rx="20" ry="12"/><text>19</text></g>
<g id="bd73-x1" class="n" transform="translate(759 182) rotate(5) translate(33 0) rotate(-5)"><ellipse rx="20" ry="12"/></g>
<g id="bd73-99" class="n" transform="translate(759 182) rotate(30) translate(33 0) rotate(-30)"><ellipse rx="20" ry="12"/><text>99</text></g>
<g id="bd73-106" class="n" transform="translate(759 182) rotate(60) translate(33 0) rotate(-60)"><ellipse rx="20" ry="12"/><text>106</text></g>
<g id="bd73-68" class="n" transform="translate(759 182) rotate(97) translate(33 0) rotate(-97)"><ellipse rx="20" ry="12"/><text>68</text></g>
<g id="bd73-93" class="n" transform="translate(759 182) rotate(130) translate(33 0) rotate(-130)"><ellipse rx="20" ry="12"/><text>93</text></g>
<g id="bd73-x2" class="n" transform="translate(759 182) rotate(155) translate(33 0) rotate(-155)"><ellipse rx="20" ry="12"/></g>
<g id="bd73-58" class="n" transform="translate(759 182) rotate(178) translate(33 0) rotate(-178)"><ellipse rx="20" ry="12"/><text>58</text></g>
<g id="bd73-109" class="n" transform="translate(759 182) rotate(205) translate(33 0) rotate(-205)"><ellipse rx="20" ry="12"/><text>109</text></g>
<g id="bd73-98" class="n" transform="translate(759 182) rotate(228) translate(15 0) rotate(-228)"><ellipse rx="20" ry="12"/><text>98</text></g>
<g id="bd73-0" class="n" transform="translate(759 182) translate(22 0)"><ellipse rx="20" ry="12"/><text>0</text></g>
<g id="bd73-x3" class="n" transform="translate(759 182) rotate(100) translate(16 0) rotate(-100)"><ellipse rx="20" ry="12"/></g>
<g id="bd73-x4" class="n" transform="translate(759 182) rotate(290) translate(16 0) rotate(-290)"><ellipse rx="20" ry="12"/></g>
</g>
<g id="bdm">
<g id="bdm-91" class="n" transform="translate(653 266) rotate(265) translate(33 0) rotate(-265)"><ellipse rx="20" ry="12"/><text>91</text></g>
<g id="bdm-8" class="n" transform="translate(653 266) rotate(295) translate(33 0) rotate(-295)"><ellipse rx="20" ry="12"/><text>8</text></g>
<g id="bdm-x1" class="n" transform="translate(653 266) rotate(325) translate(33 0) rotate(-325)"><ellipse rx="20" ry="12"/></g>
<g id="bdm-2" class="n" transform="translate(653 266) rotate(355) translate(33 0) rotate(-355)"><ellipse rx="20" ry="12"/><text>2</text></g>
<g id="bdm-0" class="n" transform="translate(653 266) rotate(25) translate(33 0) rotate(-25)"><ellipse rx="20" ry="12"/><text>0</text></g>
<g id="bdm-3b" class="n" transform="translate(653 266) rotate(55) translate(33 0) rotate(-55)"><ellipse rx="20" ry="12"/><text>3</text></g>
<g id="bdm-x2" class="n" transform="translate(653 266) rotate(85) translate(33 0) rotate(-85)"><ellipse rx="20" ry="12"/></g>
<g id="bdm-6" class="n" transform="translate(653 266) rotate(115) translate(33 0) rotate(-115)"><ellipse rx="20" ry="12"/><text>6</text></g>
<g id="bdm-5" class="n" transform="translate(653 266) rotate(145) translate(33 0) rotate(-145)"><ellipse rx="20" ry="12"/><text>5</text></g>
<g id="bdm-10" class="n" transform="translate(653 266) rotate(175) translate(33 0) rotate(-175)"><ellipse rx="20" ry="12"/><text>10</text></g>
<g id="bdm-42" class="n" transform="translate(653 266) rotate(205) translate(33 0) rotate(-205)"><ellipse rx="20" ry="12"/><text>42</text></g>
<g id="bdm-3" class="n" transform="translate(653 266) rotate(235) translate(33 0) rotate(-235)"><ellipse rx="20" ry="12"/><text>3</text></g>
<g id="bdm-x3" class="n" transform="translate(653 266) rotate(20) translate(17 0) rotate(-20)"><ellipse rx="20" ry="12"/></g>
<g id="bdm-x4" class="n" transform="translate(653 266) rotate(140) translate(17 0) rotate(-140)"><ellipse rx="20" ry="12"/></g>
<g id="bdm-x5" class="n" transform="translate(653 266) rotate(260) translate(17 0) rotate(-260)"><ellipse rx="20" ry="12"/></g>
</g>
<g id="bd75">
<g id="bd75-75" class="n" transform="translate(567 363) rotate(242) translate(33 0) rotate(-242)"><ellipse rx="20" ry="12"/><text>75</text></g>
<g id="bd75-43" class="n" transform="translate(567 363) rotate(272) translate(33 0) rotate(-272)"><ellipse rx="20" ry="12"/><text>43</text></g>
<g id="bd75-78" class="n" transform="translate(567 363) rotate(302) translate(33 0) rotate(-302)"><ellipse rx="20" ry="12"/><text>78</text></g>
<g id="bd75-17" class="n" transform="translate(567 363) rotate(340) translate(33 0) rotate(-340)"><ellipse rx="20" ry="12"/><text>17</text></g>
<g id="bd75-100" class="n" transform="translate(567 363) rotate(28) translate(33 0) rotate(-28)"><ellipse rx="20" ry="12"/><text>100</text></g>
<g id="bd75-107" class="n" transform="translate(567 363) rotate(62) translate(33 0) rotate(-62)"><ellipse rx="20" ry="12"/><text>107</text></g>
<g id="bd75-x1" class="n" transform="translate(567 363) rotate(85) translate(33 0) rotate(-85)"><ellipse rx="20" ry="12"/></g>
<g id="bd75-7" class="n" transform="translate(567 363) rotate(110) translate(33 0) rotate(-110)"><ellipse rx="20" ry="12"/><text>7</text></g>
<g id="bd75-96" class="n" transform="translate(567 363) rotate(140) translate(33 0) rotate(-140)"><ellipse rx="20" ry="12"/><text>96</text></g>
<g id="bd75-58" class="n" transform="translate(567 363) rotate(175) translate(33 0) rotate(-175)"><ellipse rx="20" ry="12"/><text>58</text></g>
<g id="bd75-16" class="n" transform="translate(567 363) rotate(205) translate(33 0) rotate(-205)"><ellipse rx="20" ry="12"/><text>16</text></g>
<g id="bd75-8" class="n" transform="translate(567 363) rotate(225) translate(20 0) rotate(-225)"><ellipse rx="20" ry="12"/><text>8</text></g>
<g id="bd75-x2" class="n" transform="translate(567 363) rotate(0) translate(17 0)"><ellipse rx="20" ry="12"/></g>
<g id="bd75-x3" class="n" transform="translate(567 363) rotate(110) translate(15 0) rotate(-110)"><ellipse rx="20" ry="12"/></g>
</g>
<g id="b82" class="n" transform="translate(660.8 347.2)"><ellipse rx="17.5" ry="11.2"/><text>82</text></g>
<g id="b113" class="n" transform="translate(708.5 354.7)"><ellipse rx="20.8" ry="11.3"/><text>113</text></g>
<g id="b84p" class="n" transform="translate(682.2 400.5)"><ellipse rx="17.8" ry="11.2"/><text>84</text></g>
<g id="b110" class="n" transform="translate(729.2 407.7)"><ellipse rx="20.8" ry="11.6"/><text>110</text></g>

<g id="c100" class="big" transform="translate(1131 258)"><ellipse rx="38.3" ry="22.8"/><text x="2">100</text></g>
<g id="c205" class="big" transform="translate(1219.5 271)"><ellipse rx="38.8" ry="22.5"/><text x="2">205</text></g>
<g id="c111" class="big" transform="translate(1008 326)"><ellipse rx="38.8" ry="22.5"/><text x="2">111</text></g>
<g id="c305" class="big" transform="translate(1096.5 339)"><ellipse rx="39" ry="22.8"/><text x="2">305</text></g>
<g id="c101" class="big" transform="translate(1199 380.5)"><ellipse rx="38.2" ry="22.8"/><text x="2">101</text></g>
<g id="c300" class="big" transform="translate(1286.5 393)"><ellipse rx="38.8" ry="22.5"/><text x="2">300</text></g>

<g id="captions">
<text class="cap" x="197" y="442">(a) Cluster similarity graph</text>
<text class="cap" x="669" y="442">(b) Outlier similarity graph</text>
<text class="cap" x="1228" y="442">(c) Anomaly similarity graph.</text>
</g>
</svg>
